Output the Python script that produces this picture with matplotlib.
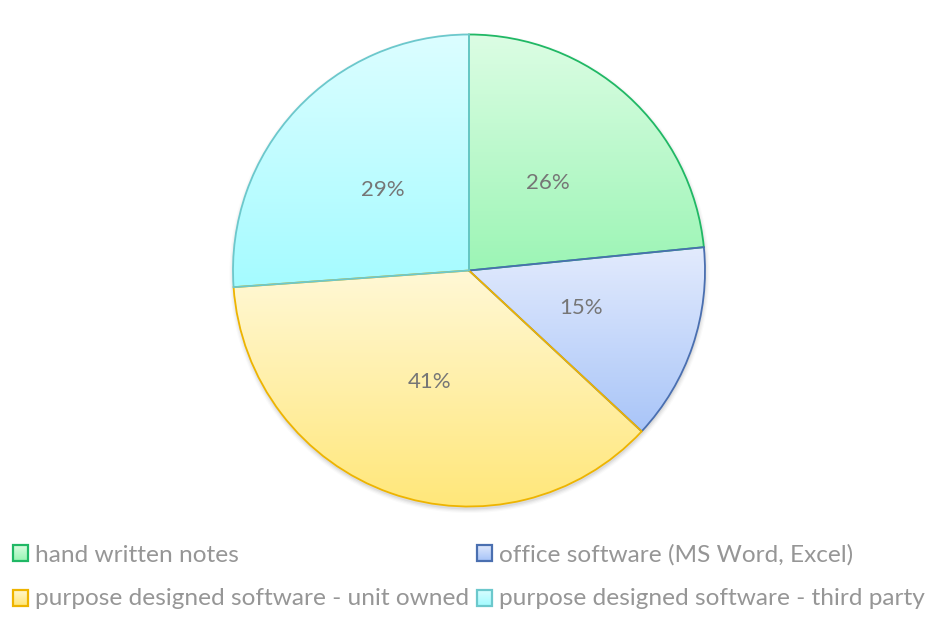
import numpy as np
import matplotlib
matplotlib.use("Agg")
import matplotlib.pyplot as plt
from matplotlib.patches import Rectangle, Circle
from matplotlib.colors import to_rgb

# ---- data ----
categories = ["hand written notes", "office software (MS Word, Excel)",
              "purpose designed software - unit owned",
              "purpose designed software - third party"]
values = [26, 15, 41, 29]
pct_labels = ["26%", "15%", "41%", "29%"]

# ---- styles ----
top_colors = ["#dcfde4", "#e3ebfd", "#fff8d6", "#dcfeff"]
bot_colors = ["#9cf5b5", "#a9c5f8", "#ffe77a", "#a5fbff"]
edge_colors = ["#20b865", "#4a6fb0", "#eeb400", "#6cc8cc"]

W, H = 942, 621
cx, cy, R = 469, 270.5, 236

fig = plt.figure(figsize=(W / 100, H / 100), dpi=100)
ax = fig.add_axes([0, 0, 1, 1])
ax.axis("off")

# soft shadow
for i, a in enumerate([0.05, 0.04, 0.03, 0.02]):
    ax.add_patch(Circle((0.5, -2.5), R + 0.5 + i * 1.2, facecolor="#000000",
                        edgecolor="none", alpha=a, zorder=0))

wedges, _ = ax.pie(values, startangle=90, counterclock=False, radius=R,
                   center=(0, 0), labels=None,
                   wedgeprops=dict(linewidth=1.3, zorder=3))


def grad(c1, c2, n=256):
    a = np.array(to_rgb(c1))
    b = np.array(to_rgb(c2))
    t = np.linspace(0, 1, n)[:, None]
    return (a * (1 - t) + b * t)[:, None, :]


for i, w in enumerate(wedges):
    w.set_facecolor("none")
    w.set_edgecolor(edge_colors[i])
    w.set_zorder(3 + i * 0.01)
    ext = w.get_path().get_extents()
    im = ax.imshow(grad(top_colors[i], bot_colors[i]),
                   extent=[ext.x0, ext.x1, ext.y0, ext.y1],
                   origin="upper", aspect="auto", zorder=2, interpolation="bilinear")
    im.set_clip_path(w)

# percentage labels
total = sum(values)
ang = 90.0
for i, v in enumerate(values):
    span = 360.0 * v / total
    mid = np.deg2rad(ang - span / 2)
    ang -= span
    d = 0.5 * R
    ax.text(d * np.cos(mid), d * np.sin(mid), pct_labels[i], ha="center",
            va="center", fontsize=16, color="#767676", family="Lato", zorder=5)

ax.set_aspect("auto")
ax.set_xlim(-cx, W - cx)
ax.set_ylim(-(H - cy), cy)

# legend (pixel coordinates overlay)
lax = fig.add_axes([0, 0, 1, 1])
lax.axis("off")
lax.patch.set_alpha(0)

pos = [(12.5, 545, 35, 562), (476.5, 545, 499, 562),
       (12.5, 590, 35, 605), (476.5, 590, 499, 605)]
for i, (mx, my, tx, ty) in enumerate(pos):
    s = 15.5
    lax.imshow(grad(top_colors[i], bot_colors[i]),
               extent=[mx, mx + s, my + s, my], origin="upper",
               aspect="auto", zorder=2)
    lax.add_patch(Rectangle((mx, my), s, s, facecolor="none",
                            edgecolor=edge_colors[i], linewidth=1.6, zorder=3))
    lax.text(tx, ty, categories[i], ha="left", va="baseline", fontsize=17.6,
             color="#969696", family="Lato")

lax.set_aspect("auto")
lax.set_xlim(0, W)
lax.set_ylim(H, 0)

fig.savefig("out.png", dpi=100)
